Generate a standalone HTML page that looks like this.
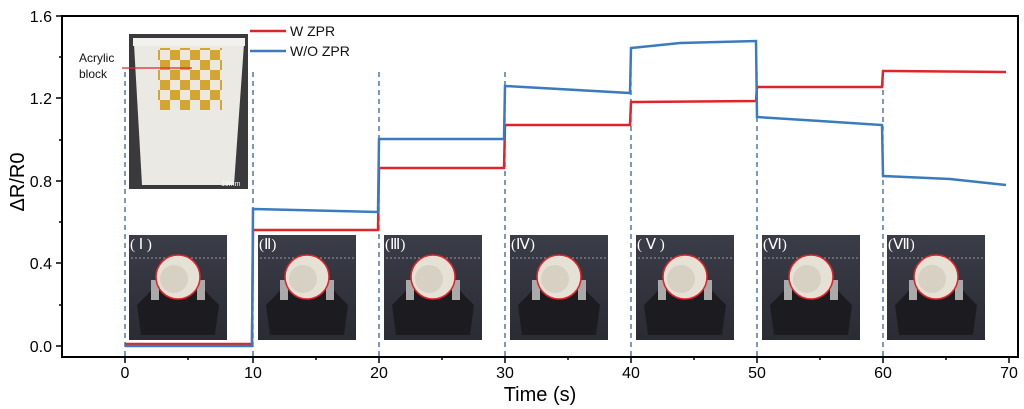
<!DOCTYPE html>
<html><head><meta charset="utf-8"><style>
body{margin:0;background:#fff;}
svg{display:block;font-family:"Liberation Sans",sans-serif;}
</style></head><body>
<svg width="1024" height="409" viewBox="0 0 1024 409" xmlns="http://www.w3.org/2000/svg">
<defs>
<linearGradient id="pg" x1="0" y1="0" x2="0" y2="1"><stop offset="0" stop-color="#3a3c48"/><stop offset="1" stop-color="#2a2b33"/></linearGradient>
<g id="photo">
<rect x="0" y="0" width="98" height="105" fill="url(#pg)"/>
<line x1="2" y1="23" x2="98" y2="23" stroke="#bbb" stroke-dasharray="2,2" stroke-width="0.8"/>
<path d="M18 60 L28 48 L70 48 L80 60 L90 70 L86 100 L12 100 L8 70 Z" fill="#1c1c20"/>
<rect x="22" y="45" width="8" height="20" fill="#aaa"/><rect x="68" y="45" width="8" height="20" fill="#aaa"/>
<circle cx="49" cy="42" r="22" fill="#e5e1d4" stroke="#e0242a" stroke-width="1.5"/>
<circle cx="45" cy="44" r="14" fill="#d6d1c2"/>
</g>
<pattern id="chk" width="20" height="20" patternUnits="userSpaceOnUse"><rect width="10" height="10" fill="#d4a530"/><rect x="10" y="10" width="10" height="10" fill="#d4a530"/><rect x="10" width="10" height="10" fill="#ece8df"/><rect y="10" width="10" height="10" fill="#ece8df"/></pattern>
</defs>
<!-- cup photo -->
<rect x="129" y="34" width="119" height="155" fill="#3a3a3c"/>
<path d="M134 44 Q188 36 244 44 L234 185 L142 185 Z" fill="#ebe9e4"/>
<rect x="133" y="38" width="112" height="8" fill="#f2f1ee"/>
<rect x="158" y="48" width="64" height="62" fill="url(#chk)"/>
<text x="221" y="186" font-size="7" fill="#fff">10mm</text>
<line x1="122" y1="68" x2="192" y2="68" stroke="#e0242a" stroke-width="1.2"/>
<text x="79" y="62" font-size="12" fill="#111">Acrylic</text>
<text x="79" y="78" font-size="12" fill="#111">block</text>
<!-- small photos -->
<g>
<use href="#photo" x="129" y="235"/><use href="#photo" x="258" y="235"/><use href="#photo" x="384" y="235"/>
<use href="#photo" x="510" y="235"/><use href="#photo" x="636" y="235"/><use href="#photo" x="762" y="235"/><use href="#photo" x="887" y="235"/>
</g>
<g font-family="Liberation Serif,serif" font-size="15" fill="#fff">
<text x="130" y="249">( Ⅰ )</text><text x="259" y="249">(Ⅱ)</text><text x="385" y="249">(Ⅲ)</text>
<text x="511" y="249">(Ⅳ)</text><text x="637" y="249">( Ⅴ )</text><text x="763" y="249">(Ⅵ)</text><text x="888" y="249">(Ⅶ)</text>
</g>
<!-- dashed lines -->
<g stroke="#3b5f9a" stroke-width="1.3" stroke-dasharray="5,4">
<line x1="125" y1="72" x2="125" y2="356"/><line x1="253" y1="72" x2="253" y2="356"/><line x1="379" y1="72" x2="379" y2="356"/>
<line x1="505" y1="72" x2="505" y2="356"/><line x1="631" y1="72" x2="631" y2="356"/><line x1="757" y1="72" x2="757" y2="356"/><line x1="883" y1="72" x2="883" y2="356"/>
</g>
<!-- series -->
<polyline fill="none" stroke="#e0242a" stroke-width="2.5" points="125,344 252,344 253,230 378,230 379,168 504,168 505,125 630,125 631,102 756,101 757,87 882,87 883,71 1006,72"/>
<polyline fill="none" stroke="#3a7bbf" stroke-width="2.5" points="125,346 252,346 253,209 378,212 379,139 504,139 505,86 630,93 631,48 680,43 756,41 757,117 820,121 882,125 883,176 950,179 1006,185"/>
<!-- legend -->
<line x1="250" y1="31" x2="286" y2="31" stroke="#e0242a" stroke-width="2.5"/>
<text x="290" y="36" font-size="14" fill="#111">W ZPR</text>
<line x1="250" y1="51" x2="286" y2="51" stroke="#3a7bbf" stroke-width="2.5"/>
<text x="290" y="56" font-size="14" fill="#111">W/O ZPR</text>
<!-- axes -->
<rect x="62" y="16" width="956" height="341" fill="none" stroke="#000" stroke-width="2"/>
<g stroke="#000" stroke-width="1.5">
<line x1="62" y1="16" x2="56" y2="16"/><line x1="62" y1="98" x2="56" y2="98"/><line x1="62" y1="181" x2="56" y2="181"/><line x1="62" y1="263" x2="56" y2="263"/><line x1="62" y1="346" x2="56" y2="346"/>
<line x1="62" y1="57" x2="59" y2="57"/><line x1="62" y1="140" x2="59" y2="140"/><line x1="62" y1="222" x2="59" y2="222"/><line x1="62" y1="305" x2="59" y2="305"/>
<line x1="125" y1="357" x2="125" y2="363"/><line x1="253" y1="357" x2="253" y2="363"/><line x1="379" y1="357" x2="379" y2="363"/><line x1="505" y1="357" x2="505" y2="363"/><line x1="631" y1="357" x2="631" y2="363"/><line x1="757" y1="357" x2="757" y2="363"/><line x1="883" y1="357" x2="883" y2="363"/><line x1="1009" y1="357" x2="1009" y2="363"/>
<line x1="188" y1="357" x2="188" y2="360"/><line x1="316" y1="357" x2="316" y2="360"/><line x1="442" y1="357" x2="442" y2="360"/><line x1="568" y1="357" x2="568" y2="360"/><line x1="694" y1="357" x2="694" y2="360"/><line x1="820" y1="357" x2="820" y2="360"/><line x1="946" y1="357" x2="946" y2="360"/>
</g>
<g font-size="16" fill="#000" text-anchor="end">
<text x="52" y="22">1.6</text><text x="52" y="104">1.2</text><text x="52" y="187">0.8</text><text x="52" y="269">0.4</text><text x="52" y="352">0.0</text>
</g>
<g font-size="16" fill="#000" text-anchor="middle">
<text x="125" y="378">0</text><text x="253" y="378">10</text><text x="379" y="378">20</text><text x="505" y="378">30</text><text x="631" y="378">40</text><text x="757" y="378">50</text><text x="883" y="378">60</text><text x="1009" y="378">70</text>
</g>
<text x="540" y="401" font-size="20" text-anchor="middle">Time (s)</text>
<text transform="translate(24,182) rotate(-90)" font-size="20" text-anchor="middle">ΔR/R0</text>
</svg>
</body></html>
